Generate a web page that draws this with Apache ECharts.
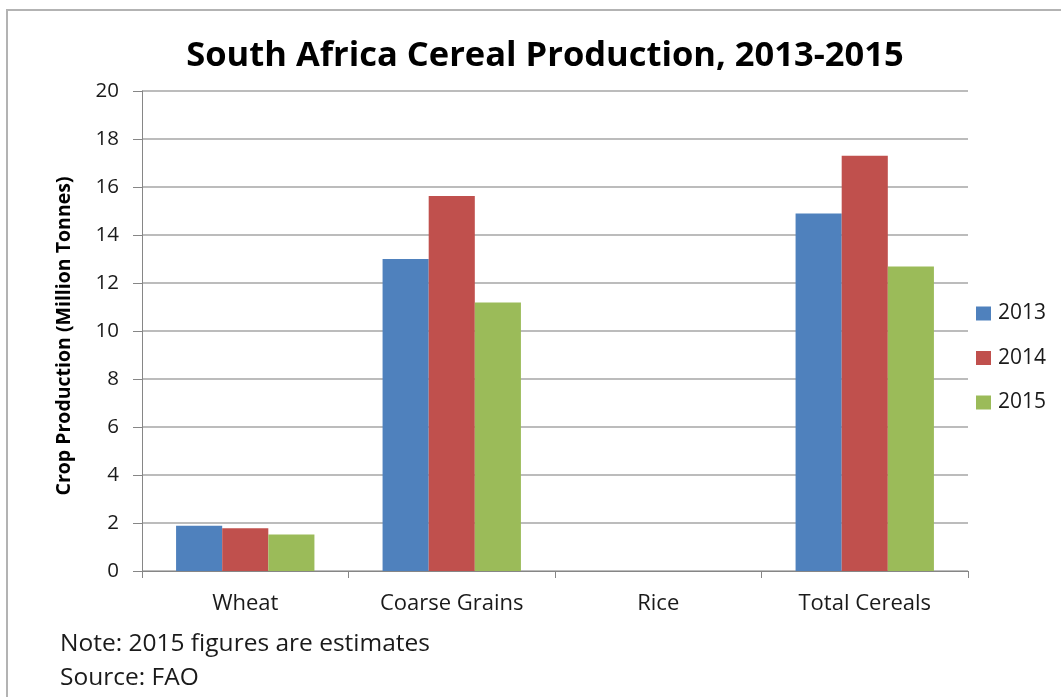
<!DOCTYPE html>
<html>
<head>
<meta charset="utf-8">
<title>South Africa Cereal Production, 2013-2015</title>
<script src="https://cdn.jsdelivr.net/npm/echarts@6/dist/echarts.min.js"></script>
<style>
  html, body { margin: 0; padding: 0; background: #ffffff; }
  #chart { width: 1061px; height: 697px; }
</style>
</head>
<body>
<div id="chart"></div>
<script>
// Crop categories and yearly production (million tonnes)
const categories = ['Wheat', 'Coarse Grains', 'Rice', 'Total Cereals'];
const years = ['2013', '2014', '2015'];
const prod2013 = [1.89, 13.0, 0.0, 14.9];
const prod2014 = [1.78, 15.63, 0.0, 17.3];
const prod2015 = [1.52, 11.19, 0.0, 12.69];
const yTicks = { min: 0, max: 20, interval: 2 };

const FONT = '"Open Sans", Lato, sans-serif';
const colors = ['#4f81bd', '#c0504d', '#9bbb59'];
const seriesValues = [prod2013, prod2014, prod2015];

const chart = echarts.init(document.getElementById('chart'), null, { renderer: 'canvas' });

chart.setOption({
  backgroundColor: '#ffffff',
  color: colors,
  animation: false,
  title: {
    text: 'South Africa Cereal Production, 2013-2015',
    left: 540,
    textAlign: 'center',
    top: 34,
    textStyle: { fontFamily: FONT, fontWeight: 'bold', fontSize: 34.5, color: '#000000' }
  },
  legend: {
    data: years,
    orient: 'vertical',
    left: 976,
    top: 303,
    padding: 0,
    itemWidth: 15,
    itemHeight: 14,
    itemGap: 23.5,
    icon: 'rect',
    textStyle: { fontFamily: FONT, fontSize: 21, color: '#1a1a1a', padding: [0, 0, 0, 2] }
  },
  grid: { left: 142, right: 93, top: 91, bottom: 126, containLabel: false },
  xAxis: {
    type: 'category',
    data: categories,
    axisLine: { lineStyle: { color: '#868686', width: 1 } },
    axisTick: { show: true, length: 7, alignWithLabel: false, lineStyle: { color: '#868686' } },
    axisLabel: { margin: 22, fontFamily: FONT, fontSize: 22, color: '#1a1a1a' }
  },
  yAxis: {
    type: 'value',
    min: yTicks.min,
    max: yTicks.max,
    interval: yTicks.interval,
    name: 'Crop Production (Million Tonnes)',
    nameLocation: 'middle',
    nameGap: 68,
    nameTextStyle: { fontFamily: FONT, fontWeight: 'bold', fontSize: 19.5, color: '#000000', padding: [0, 10, 0, 0] },
    axisLine: { show: true, lineStyle: { color: '#868686', width: 1 } },
    axisTick: { show: true, length: 9, lineStyle: { color: '#868686' } },
    axisLabel: { margin: 23, fontFamily: FONT, fontSize: 20.5, color: '#1a1a1a' },
    splitLine: { lineStyle: { color: '#a6a6a6', width: 1.5 } }
  },
  series: years.map((y, i) => ({
    name: y,
    type: 'bar',
    data: seriesValues[i],
    barGap: '0%',
    barCategoryGap: '33%',
    itemStyle: { color: colors[i] }
  })),
  graphic: [
    {
      type: 'rect',
      shape: { x: 7, y: 10, width: 1100, height: 720 },
      style: { fill: 'none', stroke: '#b3b3b3', lineWidth: 2 },
      silent: true
    },
    {
      type: 'text',
      left: 60,
      top: 632,
      style: { text: 'Note: 2015 figures are estimates', font: '24.5px ' + FONT, fill: '#1a1a1a' }
    },
    {
      type: 'text',
      left: 60,
      top: 666,
      style: { text: 'Source: FAO', font: '24.5px ' + FONT, fill: '#1a1a1a' }
    }
  ]
});
</script>
</body>
</html>
